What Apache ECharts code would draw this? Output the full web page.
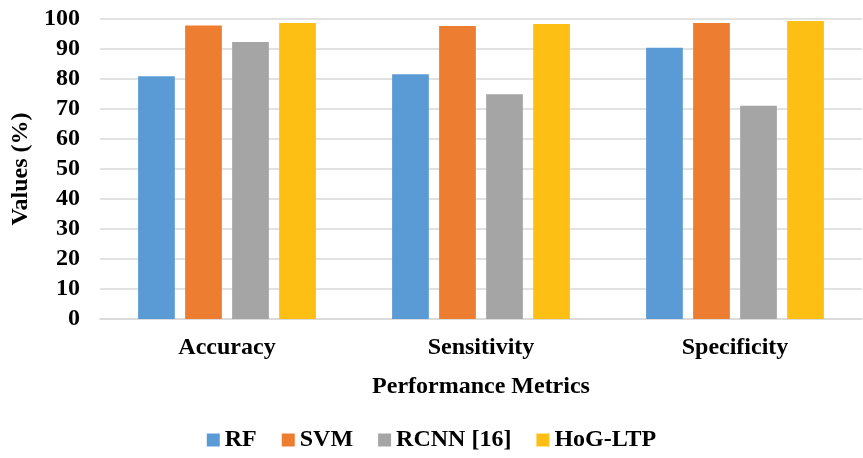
<!DOCTYPE html>
<html>
<head>
<meta charset="utf-8">
<script src="https://cdn.jsdelivr.net/npm/echarts@6/dist/echarts.min.js"></script>
<style>
  html, body { margin: 0; padding: 0; background: #fff; }
  #chart { width: 863px; height: 458px; }
</style>
</head>
<body>
<div id="chart"></div>
<script>
// 数据
const categories = ['Accuracy', 'Sensitivity', 'Specificity'];
const rfValues = [80.9, 81.6, 90.4];
const svmValues = [97.8, 97.7, 98.7];
const rcnnValues = [92.3, 74.9, 71.1];
const hogValues = [98.7, 98.3, 99.3];
const yTicks = { min: 0, max: 100, interval: 10 };

const font = '"Liberation Serif", "Times New Roman", serif';
const textStyle = { fontFamily: font, fontWeight: 'bold', fontSize: 24, color: '#000' };

const chart = echarts.init(document.getElementById('chart'));

function bar(name, data, color) {
    return {
        name: name,
        type: 'bar',
        data: data,
        barGap: '28%',
        barCategoryGap: '30%',
        itemStyle: { color: color }
    };
}

chart.setOption({
    animation: false,
    grid: { left: 100, right: 1, top: 19, bottom: 139 },
    legend: {
        bottom: 1,
        left: 'center',
        itemWidth: 13,
        itemHeight: 13,
        itemGap: 25,
        icon: 'rect',
        textStyle: textStyle,
        data: ['RF', 'SVM', 'RCNN [16]', 'HoG-LTP']
    },
    xAxis: {
        type: 'category',
        data: categories,
        name: 'Performance Metrics',
        nameLocation: 'middle',
        nameGap: 56,
        nameTextStyle: textStyle,
        axisLine: { lineStyle: { color: '#d9d9d9', width: 1.5 } },
        axisTick: { show: false },
        axisLabel: Object.assign({ margin: 17 }, textStyle)
    },
    yAxis: {
        type: 'value',
        min: yTicks.min,
        max: yTicks.max,
        interval: yTicks.interval,
        name: 'Values (%)',
        nameLocation: 'middle',
        nameGap: 64,
        nameTextStyle: textStyle,
        axisLine: { show: false },
        axisTick: { show: false },
        axisLabel: Object.assign({ margin: 20 }, textStyle),
        splitLine: { lineStyle: { color: '#d9d9d9', width: 1.5 } }
    },
    series: [
        bar('RF', rfValues, '#5b9bd5'),
        bar('SVM', svmValues, '#ed7d31'),
        bar('RCNN [16]', rcnnValues, '#a5a5a5'),
        bar('HoG-LTP', hogValues, '#fdbf14')
    ]
});
</script>
</body>
</html>
